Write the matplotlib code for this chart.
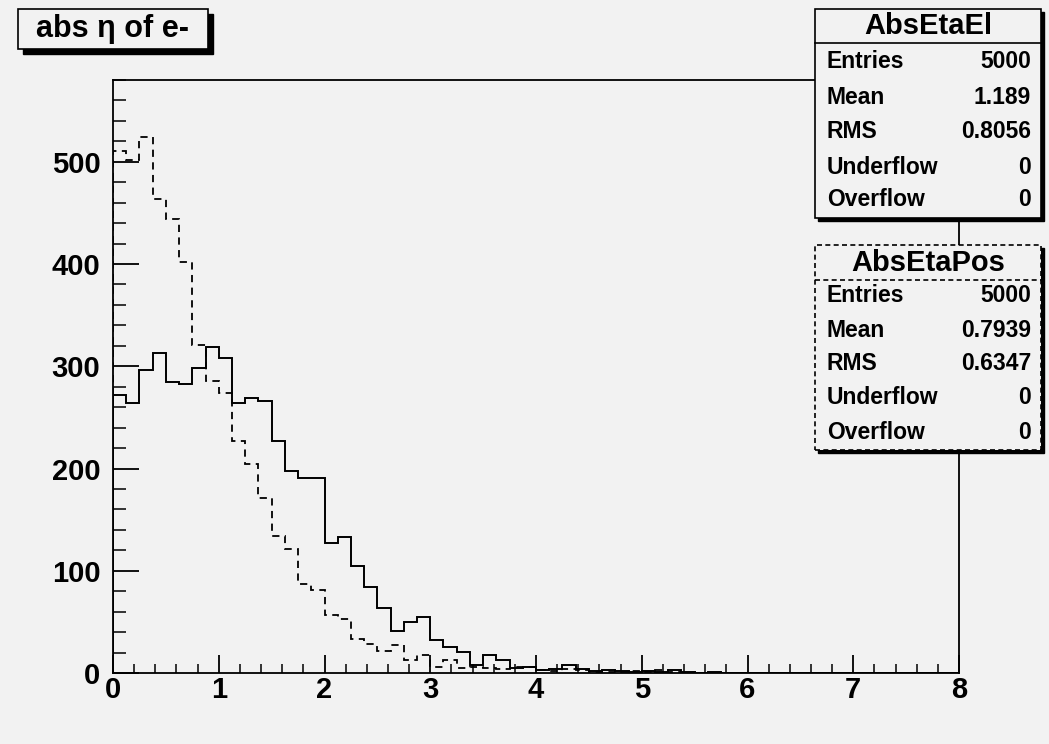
import numpy as np
import matplotlib.pyplot as plt
from matplotlib.patches import Rectangle

# bin contents, 64 bins of width 0.125 over 0..8
edges = np.linspace(0, 8, 65)
abs_eta_el = [272, 264, 296, 313, 285, 283, 298, 319, 308, 264, 269, 266, 227, 198, 191, 191,
              127, 133, 105, 84, 64, 41, 50, 55, 32, 25, 21, 8, 18, 13, 5, 6,
              3, 4, 8, 4, 2, 3, 2, 1, 2, 1, 3, 1, 0, 1, 0, 0,
              0, 0, 0, 0, 0, 0, 0, 0, 0, 0, 0, 0, 0, 0, 0, 0]
abs_eta_pos = [511, 502, 524, 464, 444, 402, 321, 286, 274, 227, 204, 171, 134, 121, 87, 81,
               57, 53, 33, 28, 22, 27, 13, 18, 6, 13, 5, 6, 5, 4, 6, 6,
               3, 2, 4, 3, 1, 1, 1, 2, 1, 3, 1, 0, 0, 0, 0, 0,
               0, 0, 0, 0, 0, 0, 0, 0, 0, 0, 0, 0, 0, 0, 0, 0]

stat_labels = ['Entries', 'Mean', 'RMS', 'Underflow', 'Overflow']
stats_el = ['5000', '1.189', '0.8056', '0', '0']
stats_pos = ['5000', '0.7939', '0.6347', '0', '0']

W, H = 1049, 744
bg = '#f2f2f2'
plt.rcParams['font.family'] = ['Liberation Sans', 'DejaVu Sans']

fig = plt.figure(figsize=(W / 100, H / 100), dpi=100, facecolor=bg)


def fx(x):
    return x / W


def fy(y):
    return 1 - y / H


# frame: x 113..959, y 80..673 (pixels)
ax = fig.add_axes([fx(113), fy(673), fx(959) - fx(113), fy(80) - fy(673)])
ax.set_facecolor(bg)
ax.stairs(abs_eta_el, edges, color='black', linewidth=1.4)
ax.stairs(abs_eta_pos, edges, color='black', linewidth=1.3, linestyle=(0, (4, 3)))
ax.set_xlim(0, 8)
ax.set_ylim(0, 580)
ax.set_xticks(range(0, 9))
ax.set_xticks(np.arange(0, 8.01, 0.2), minor=True)
ax.set_yticks(range(0, 501, 100))
ax.set_yticks(range(0, 581, 20), minor=True)
for s in ax.spines.values():
    s.set_linewidth(1.3)
ax.tick_params(axis='x', which='major', direction='in', length=13, width=1.3, labelsize=21, pad=2)
ax.tick_params(axis='x', which='minor', direction='in', length=6.5, width=1.1)
ax.tick_params(axis='y', which='major', direction='in', length=19, width=1.3, labelsize=21, pad=9)
ax.tick_params(axis='y', which='minor', direction='in', length=9, width=1.1)
for lab in ax.get_xticklabels() + ax.get_yticklabels():
    lab.set_fontweight('bold')


def box(x0, y0, x1, y1, ls='-', sh=3):
    fig.add_artist(Rectangle((fx(x0 + sh), fy(y1 + sh)), fx(x1 - x0), fy(y0) - fy(y1),
                             transform=fig.transFigure, facecolor='black', edgecolor='black',
                             linewidth=1, zorder=5))
    fig.add_artist(Rectangle((fx(x0), fy(y1)), fx(x1 - x0), fy(y0) - fy(y1),
                             transform=fig.transFigure, facecolor=bg, edgecolor='black',
                             linewidth=1.2, linestyle=ls, zorder=6))


def stats_box(name, values, top, bottom, sep, title_y, rows_y, ls):
    box(815, top, 1041, bottom, ls)
    fig.add_artist(plt.Line2D([fx(815), fx(1041)], [fy(sep), fy(sep)], color='black',
                              linewidth=1.2, linestyle=ls, transform=fig.transFigure, zorder=7))
    fig.text(fx(928), fy(title_y), name, ha='center', va='center', fontsize=21,
             fontweight='bold', zorder=8)
    for lab, val, y in zip(stat_labels, values, rows_y):
        fig.text(fx(827), fy(y), lab, ha='left', va='center', fontsize=16.5,
                 fontweight='bold', zorder=8)
        fig.text(fx(1031), fy(y), val, ha='right', va='center', fontsize=16.5,
                 fontweight='bold', zorder=8)


stats_box('AbsEtaEl', stats_el, 9, 218, 43, 26, [61, 97, 132, 167, 200], '-')
stats_box('AbsEtaPos', stats_pos, 245, 450, 280, 263, [296, 330, 363, 397, 432], (0, (3, 2)))

# title box
box(18, 9, 208, 49, sh=5)
fig.text(fx(113), fy(29), 'abs η of e-', ha='center', va='center', fontsize=22,
         fontweight='bold', zorder=8)

fig.savefig('out.png', dpi=100, facecolor=bg)
